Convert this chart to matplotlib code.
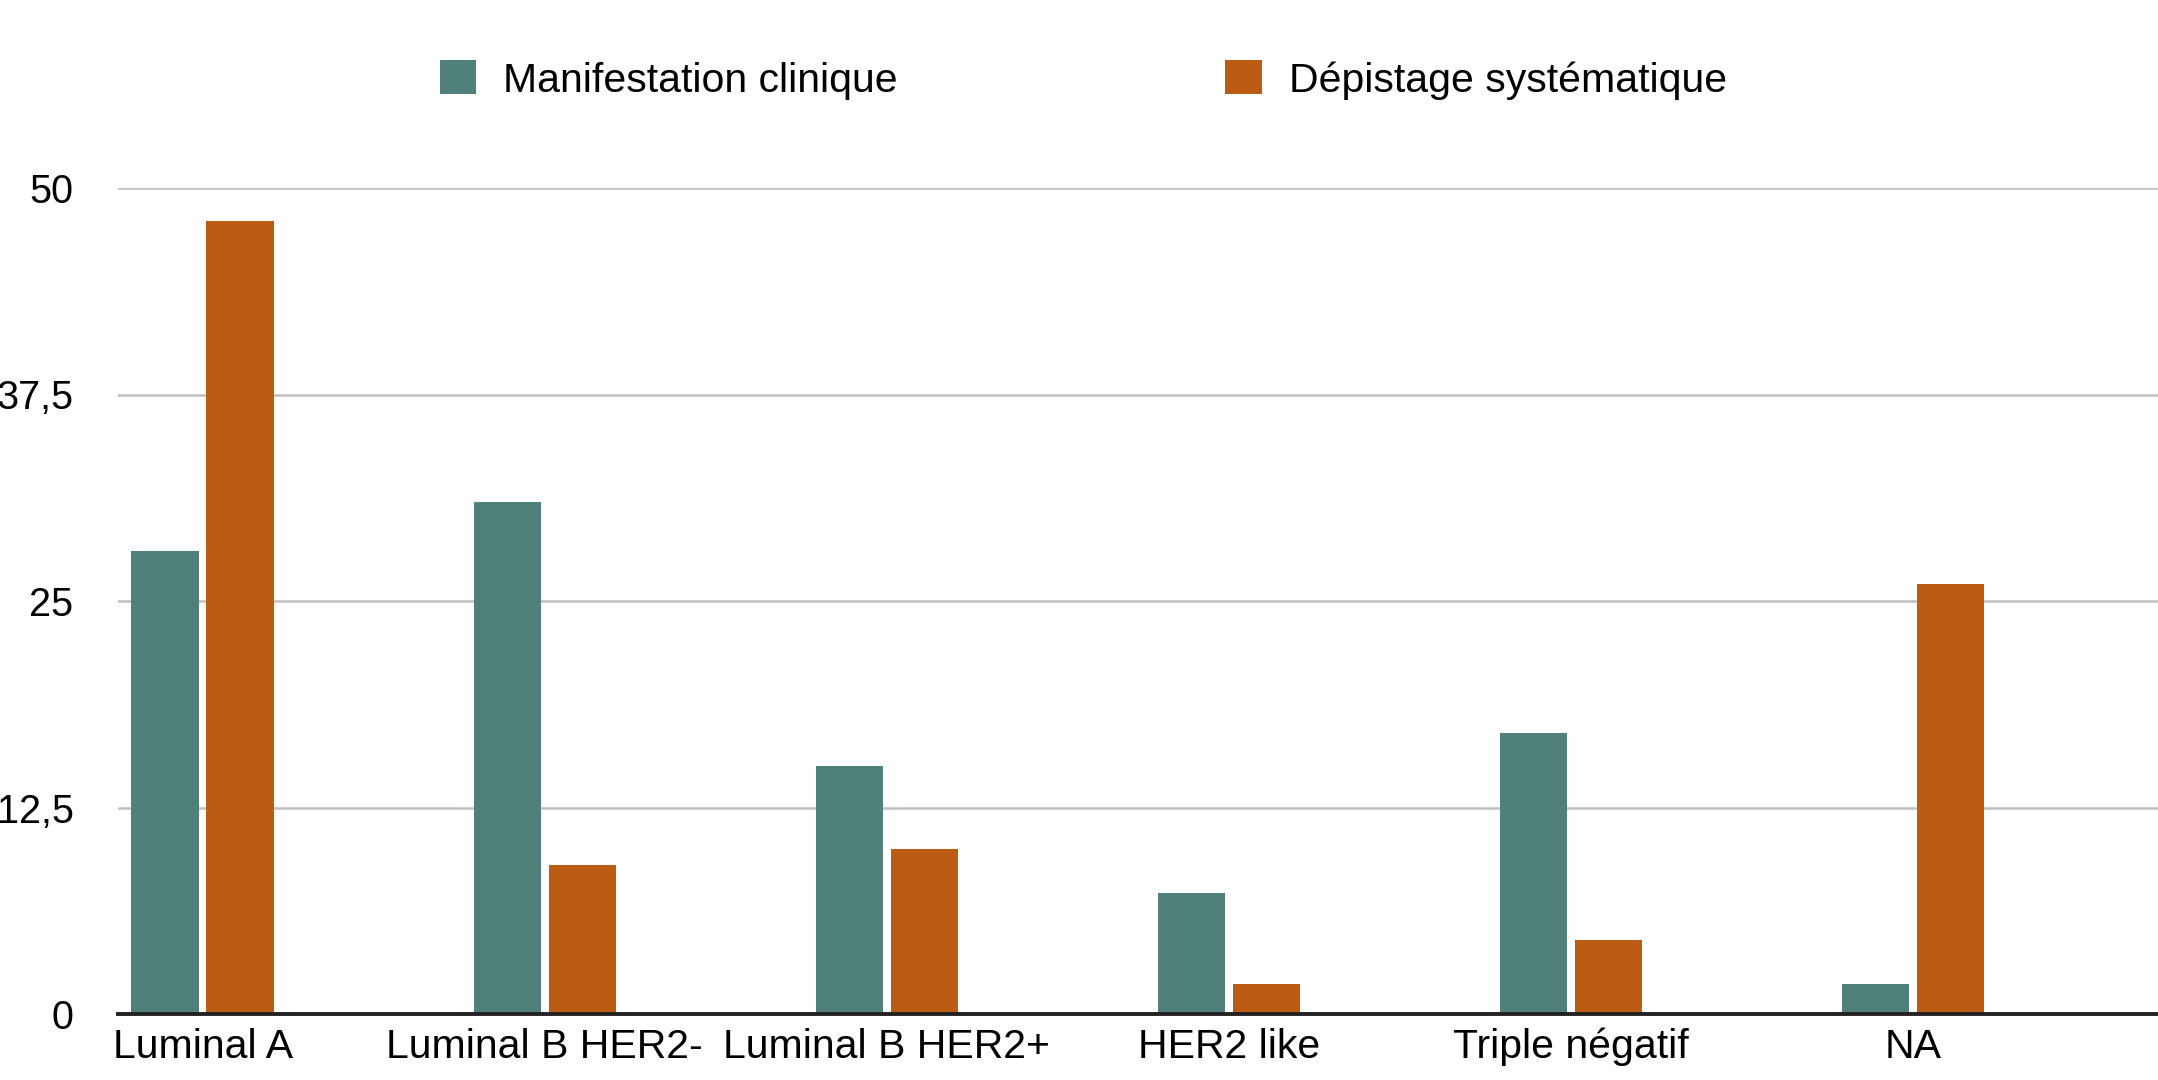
import matplotlib
matplotlib.use("Agg")
import matplotlib.pyplot as plt
import numpy as np

categories = ["Luminal A", "Luminal B HER2-", "Luminal B HER2+", "HER2 like", "Triple négatif", "NA"]
clinique = [28.0, 31.0, 15.0, 7.3, 17.0, 1.8]
depistage = [48.0, 9.0, 10.0, 1.8, 4.5, 26.0]
series_names = ["Manifestation clinique", "Dépistage systématique"]
yticks = [0, 12.5, 25, 37.5, 50]
ytick_labels = ["0", "12,5", "25", "37,5", "50"]

TEAL = "#4F8079"
ORANGE = "#BC5B14"

plt.rcParams["font.family"] = ["Liberation Sans", "DejaVu Sans"]
plt.rcParams["font.size"] = 29.5

fig = plt.figure(figsize=(21.58, 10.8), dpi=100)
ax = fig.add_axes([118 / 2158, 1 - 1014 / 1080, 1 - 118 / 2158, (1014 - 188) / 1080])

x = np.arange(len(categories))
w = 0.197
off = 0.1097
ax.bar(x - off, clinique, width=w, color=TEAL, label=series_names[0], zorder=3)
ax.bar(x + off, depistage, width=w, color=ORANGE, label=series_names[1], zorder=3)

ax.set_ylim(0, 50)
ax.set_xlim(-0.2475, 5.716)
ax.set_yticks(yticks)
ax.set_yticklabels(ytick_labels, fontsize=28.5)
ax.set_xticks(x)
ax.set_xticklabels(categories)
ax.tick_params(axis="y", length=0, pad=32)
ax.tick_params(axis="x", length=0, pad=10)
ax.grid(axis="y", color="#c0c0c0", linewidth=1.8, zorder=0)
ax.set_axisbelow(True)
for s in ["top", "left", "right"]:
    ax.spines[s].set_visible(False)
ax.spines["bottom"].set_color("#222222")
ax.spines["bottom"].set_linewidth(2.8)
ax.spines["bottom"].set_zorder(4)

fig.legend(loc="center", bbox_to_anchor=(0.502, 1 - 80 / 1080), ncol=2, frameon=False,
           handlelength=0.9, handleheight=0.9, handletextpad=0.65, columnspacing=8.0,
           borderpad=0, borderaxespad=0)

fig.savefig("out.png", dpi=100)
